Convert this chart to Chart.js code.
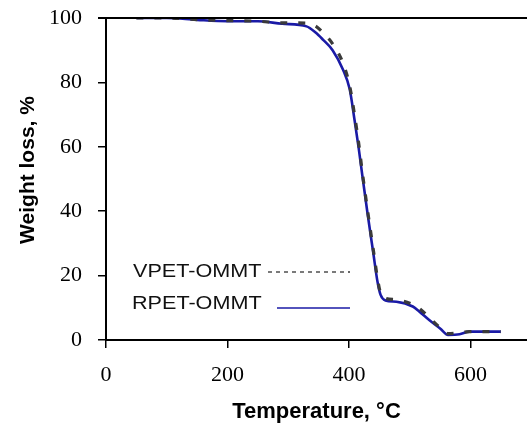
<!DOCTYPE html>
<html>
<head>
<meta charset="utf-8">
<script src="https://cdn.jsdelivr.net/npm/chart.js@4"></script>
<style>
  html, body { margin: 0; padding: 0; background: #fff; }
  #wrap { width: 527px; height: 430px; }
</style>
</head>
<body>
<div id="wrap"><canvas id="tgaChart" width="527" height="430"></canvas></div>
<script>
// temperatures (oC)
const temps = [50, 100, 150, 200, 250, 290, 330, 345, 357, 373, 390, 401, 409, 416, 422, 430, 440, 447, 452, 460, 478, 505, 516, 532, 550, 563, 582, 598, 650];
// weight loss %, both samples
const vpet = [100, 100, 99.5, 99.2, 99, 98.5, 98.4, 97.5, 95.5, 92, 86, 79, 70, 61, 52, 41, 28, 19, 14.5, 13, 12.5, 11, 9.8, 7, 3.8, 2, 2.2, 2.6, 2.6];
const rpet = [100, 100, 99.4, 99, 99, 98.2, 97.4, 95.5, 93.3, 90, 84, 78, 68.5, 59.5, 51, 40, 27, 18, 14, 12.3, 11.9, 10.4, 8.8, 6.2, 3.6, 1.6, 1.8, 2.6, 2.6];
const seriesNames = ['VPET-OMMT', 'RPET-OMMT'];
const xTitle = 'Temperature, °C';
const yTitle = 'Weight loss, %';

const pts = (ys) => temps.map((t, i) => ({ x: t, y: ys[i] }));

// top frame line, rotated y title and the hand-drawn legend
const extras = {
  id: 'extras',
  afterDraw(chart) {
    const ctx = chart.ctx;
    const a = chart.chartArea;
    ctx.save();
    ctx.strokeStyle = '#000';
    ctx.lineWidth = 2;
    ctx.beginPath();
    ctx.moveTo(a.left - 8, a.top);
    ctx.lineTo(chart.width, a.top);
    ctx.stroke();

    // y title
    ctx.save();
    ctx.translate(28, 170);
    ctx.rotate(-Math.PI / 2);
    ctx.fillStyle = '#000';
    ctx.font = 'bold 21px "Liberation Sans", Arial, sans-serif';
    ctx.textAlign = 'center';
    ctx.textBaseline = 'middle';
    ctx.fillText(yTitle, 0, 0);
    ctx.restore();

    // legend
    ctx.font = '18px "Liberation Sans", Arial, sans-serif';
    ctx.textBaseline = 'middle';
    ctx.textAlign = 'left';
    ctx.fillStyle = '#111';
    ctx.save(); ctx.translate(133, 272); ctx.scale(1.2, 1); ctx.fillText(seriesNames[0], 0, 0); ctx.restore();
    ctx.save(); ctx.translate(132, 304); ctx.scale(1.2, 1); ctx.fillText(seriesNames[1], 0, 0); ctx.restore();

    ctx.lineWidth = 1.3;
    ctx.strokeStyle = '#333';
    ctx.setLineDash([4, 4]);
    ctx.beginPath(); ctx.moveTo(268, 272); ctx.lineTo(350, 272); ctx.stroke();
    ctx.setLineDash([]);
    ctx.strokeStyle = '#1a1aa6';
    ctx.beginPath(); ctx.moveTo(277, 308); ctx.lineTo(350, 308); ctx.stroke();
    ctx.restore();
  }
};

new Chart(document.getElementById('tgaChart'), {
  type: 'line',
  data: {
    datasets: [
      {
        label: seriesNames[0],
        data: pts(vpet),
        borderColor: '#3a3a3a',
        borderWidth: 3.2,
        borderDash: [7, 11],
        pointRadius: 0,
        cubicInterpolationMode: 'monotone'
      },
      {
        label: seriesNames[1],
        data: pts(rpet),
        borderColor: '#1a1aa6',
        borderWidth: 2.6,
        pointRadius: 0,
        cubicInterpolationMode: 'monotone'
      }
    ]
  },
  options: {
    responsive: false,
    animation: false,
    layout: { padding: { top: 18, right: 0, left: 0, bottom: 0 } },
    plugins: { legend: { display: false }, tooltip: { enabled: false } },
    scales: {
      x: {
        type: 'linear',
        min: 0,
        max: 693,
        afterFit: (s) => { s.height = 90; s.paddingLeft = 0; s.paddingRight = 0; },
        ticks: { stepSize: 200, includeBounds: false, padding: 14, color: '#000', font: { family: '"Liberation Serif", "Times New Roman", serif', size: 22 } },
        grid: { drawOnChartArea: false, drawTicks: true, tickLength: 8, color: '#000', lineWidth: 1.5 },
        border: { display: true, color: '#000', width: 2 },
        title: { display: true, text: xTitle, color: '#000', padding: { top: 0, bottom: 5 }, font: { family: '"Liberation Sans", Arial, sans-serif', size: 22, weight: 'bold' } }
      },
      y: {
        min: 0,
        max: 100,
        afterFit: (s) => { s.width = 106; s.paddingTop = 0; s.paddingBottom = 0; },
        ticks: { stepSize: 20, padding: 16, color: '#000', font: { family: '"Liberation Serif", "Times New Roman", serif', size: 22 } },
        grid: { drawOnChartArea: false, drawTicks: true, tickLength: 8, color: '#000', lineWidth: 1.5 },
        border: { display: true, color: '#000', width: 2 }
      }
    }
  },
  plugins: [extras]
});
</script>
</body>
</html>
